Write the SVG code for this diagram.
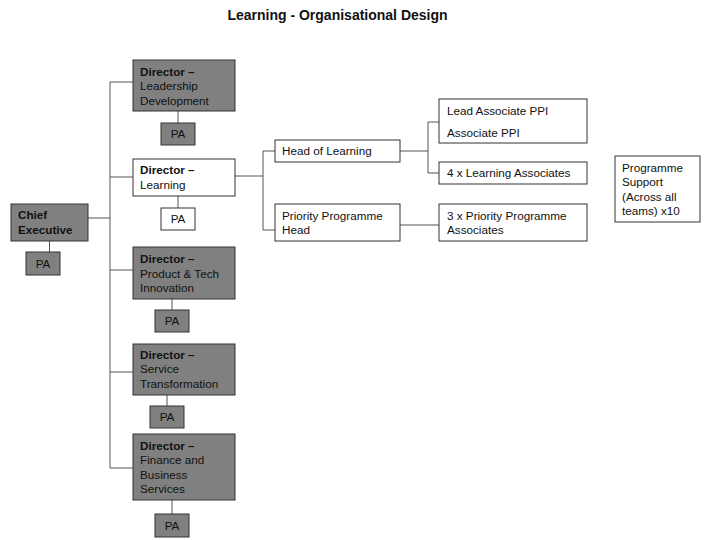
<svg xmlns="http://www.w3.org/2000/svg" width="720" height="540" viewBox="0 0 720 540">
<style>
text{font-family:"Liberation Sans",Arial,sans-serif;font-size:11.7px;fill:#111}
.t{font-size:14px;font-weight:bold}
.b{font-weight:bold}
.g{fill:#808080;stroke:#333;stroke-width:1}
.w{fill:#fff;stroke:#333;stroke-width:1}
.c{fill:none;stroke:#555;stroke-width:1}
.m{text-anchor:middle}
</style>
<rect width="720" height="540" fill="#fff"/>
<text class="t m" x="337.5" y="20">Learning - Organisational Design</text>
<g id="connectors">
<path class="c" d="M88,218H110M110,82V468M110,82H133M110,177H133M110,270H133M110,372H133M110,468H133"/>
<path class="c" d="M49.5,241V252M178,111V123M178,196V208M172,299V310M167,395V406M172,500V514"/>
<path class="c" d="M235,176H263M263,151V230M263,151H275M263,230H275"/>
<path class="c" d="M400,151H428M428,122V173M428,122H439M428,173H439M400,225H439"/>
</g>
<g id="ce"><rect class="g" x="11" y="204" width="77" height="37"/><text class="b" x="18" y="219">Chief</text><text class="b" x="18" y="234">Executive</text></g>
<g id="ce-pa"><rect class="g" x="26" y="252" width="34" height="23"/><text class="m" x="43" y="268">PA</text></g>
<g id="dir-ld"><rect class="g" x="133" y="60" width="102" height="51"/><text class="b" x="140" y="76">Director –</text><text x="140" y="90">Leadership</text><text x="140" y="105">Development</text></g>
<g id="ld-pa"><rect class="g" x="161" y="123" width="34" height="22"/><text class="m" x="178" y="138">PA</text></g>
<g id="dir-l"><rect class="w" x="133" y="159" width="102" height="37"/><text class="b" x="140" y="174">Director –</text><text x="140" y="189">Learning</text></g>
<g id="l-pa"><rect class="w" x="161" y="208" width="34" height="22"/><text class="m" x="178" y="223">PA</text></g>
<g id="dir-pt"><rect class="g" x="133" y="247" width="102" height="52"/><text class="b" x="140" y="263">Director –</text><text x="140" y="278">Product &amp; Tech</text><text x="140" y="292">Innovation</text></g>
<g id="pt-pa"><rect class="g" x="155" y="310" width="34" height="22"/><text class="m" x="172" y="325">PA</text></g>
<g id="dir-st"><rect class="g" x="133" y="344" width="102" height="51"/><text class="b" x="140" y="359">Director –</text><text x="140" y="373">Service</text><text x="140" y="388">Transformation</text></g>
<g id="st-pa"><rect class="g" x="150" y="406" width="34" height="22"/><text class="m" x="167" y="421">PA</text></g>
<g id="dir-fbs"><rect class="g" x="133" y="434" width="102" height="66"/><text class="b" x="140" y="450">Director –</text><text x="140" y="464">Finance and</text><text x="140" y="479">Business</text><text x="140" y="493">Services</text></g>
<g id="fbs-pa"><rect class="g" x="155" y="514" width="34" height="23"/><text class="m" x="172" y="530">PA</text></g>
<g id="hol"><rect class="w" x="275" y="140" width="125" height="22"/><text x="282" y="155">Head of Learning</text></g>
<g id="pph"><rect class="w" x="275" y="204" width="125" height="37"/><text x="282" y="220">Priority Programme</text><text x="282" y="234">Head</text></g>
<g id="lappi"><rect class="w" x="439" y="99" width="148" height="44"/><text x="447" y="115">Lead Associate PPI</text><text x="447" y="137">Associate PPI</text></g>
<g id="la"><rect class="w" x="439" y="162" width="148" height="22"/><text x="447" y="177">4 x Learning Associates</text></g>
<g id="ppa"><rect class="w" x="439" y="204" width="148" height="37"/><text x="447" y="220">3 x Priority Programme</text><text x="447" y="234">Associates</text></g>
<g id="ps"><rect class="w" x="615" y="156" width="85" height="66"/><text x="622" y="172">Programme</text><text x="622" y="186">Support</text><text x="622" y="201">(Across all</text><text x="622" y="215">teams) x10</text></g>
</svg>
